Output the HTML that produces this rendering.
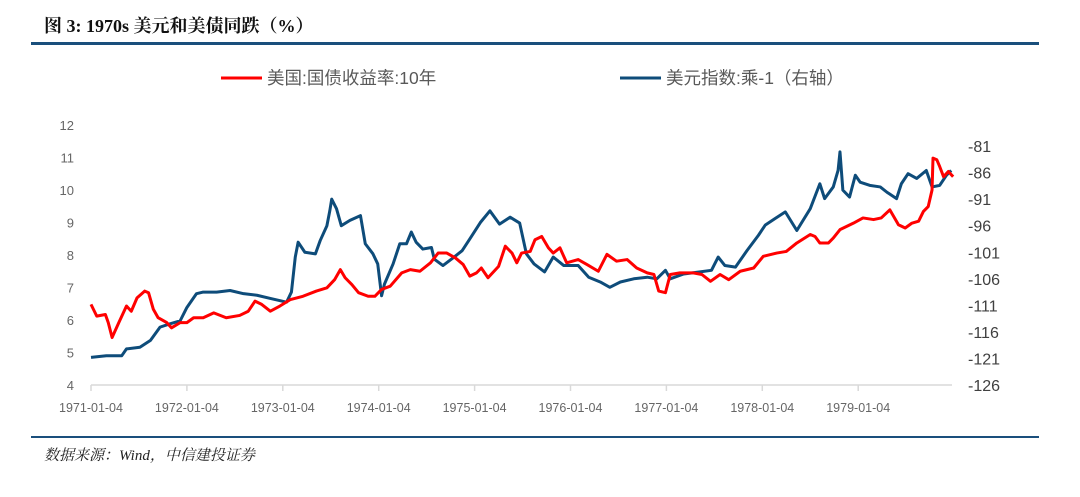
<!DOCTYPE html>
<html><head><meta charset="utf-8"><style>
body{margin:0;background:#fff;width:1080px;height:497px;overflow:hidden;position:relative;font-family:"Liberation Sans","Noto Sans CJK SC",sans-serif}
.t{position:absolute;white-space:nowrap}
</style></head><body>
<div class="t" style="left:44px;top:12px;font:bold 18px 'Liberation Serif','Noto Serif CJK SC',serif;color:#111">图 3: 1970s 美元和美债同跌（%）</div>
<div style="position:absolute;left:31px;top:42px;width:1008px;height:3px;background:#1a4f7c"></div>
<div style="position:absolute;left:31px;top:436px;width:1008px;height:2px;background:#1a4f7c"></div>
<div class="t" style="left:44px;top:444px;font:italic 15px 'Liberation Serif','Noto Serif CJK SC',serif;color:#222">数据来源：Wind，中信建投证券</div>
<svg id="c" width="1080" height="497" style="position:absolute;left:0;top:0"></svg>
<script>
const redT=[0,0.06,0.15,0.18,0.22,0.29,0.37,0.42,0.48,0.56,0.6,0.65,0.7,0.79,0.84,0.93,1.0,1.07,1.17,1.28,1.41,1.55,1.64,1.71,1.78,1.87,1.97,2.08,2.21,2.35,2.46,2.54,2.6,2.65,2.72,2.79,2.89,2.96,3.03,3.12,3.24,3.33,3.43,3.54,3.62,3.71,3.8,3.88,3.95,4.02,4.07,4.14,4.25,4.32,4.39,4.44,4.49,4.58,4.63,4.7,4.77,4.82,4.89,4.96,5.08,5.17,5.29,5.38,5.48,5.59,5.69,5.8,5.87,5.92,5.99,6.04,6.14,6.28,6.37,6.46,6.56,6.65,6.77,6.91,7.01,7.15,7.25,7.36,7.5,7.55,7.6,7.69,7.74,7.81,7.95,8.05,8.16,8.24,8.33,8.42,8.49,8.56,8.63,8.68,8.73,8.77,8.78,8.82,8.85,8.89,8.94,8.99];
const redV=[6.48,6.12,6.17,5.92,5.46,5.92,6.43,6.27,6.68,6.89,6.84,6.33,6.07,5.92,5.76,5.92,5.92,6.07,6.07,6.22,6.07,6.14,6.27,6.58,6.48,6.27,6.43,6.63,6.73,6.89,6.99,7.24,7.55,7.3,7.09,6.84,6.73,6.73,6.94,7.04,7.45,7.55,7.5,7.76,8.06,8.06,7.91,7.71,7.35,7.45,7.6,7.3,7.65,8.27,8.06,7.76,8.06,8.11,8.47,8.57,8.22,8.06,8.22,7.76,7.86,7.71,7.5,8.02,7.81,7.86,7.6,7.45,7.4,6.89,6.84,7.4,7.45,7.45,7.4,7.19,7.4,7.24,7.5,7.6,7.96,8.06,8.11,8.37,8.63,8.57,8.37,8.37,8.52,8.78,8.98,9.14,9.09,9.14,9.39,8.93,8.83,8.98,9.04,9.34,9.49,10.0,10.98,10.93,10.72,10.41,10.57,10.41];
const blueT=[0,0.16,0.32,0.37,0.51,0.62,0.72,0.82,0.93,1.0,1.1,1.17,1.31,1.45,1.59,1.73,1.87,2.04,2.09,2.13,2.16,2.23,2.34,2.39,2.46,2.49,2.51,2.56,2.61,2.7,2.81,2.86,2.94,2.99,3.03,3.06,3.15,3.22,3.29,3.34,3.39,3.46,3.55,3.58,3.67,3.78,3.87,3.95,4.06,4.16,4.26,4.37,4.47,4.54,4.62,4.73,4.82,4.93,5.08,5.19,5.31,5.41,5.52,5.66,5.8,5.9,5.99,6.04,6.18,6.35,6.47,6.54,6.61,6.72,6.84,6.96,7.03,7.13,7.24,7.36,7.5,7.6,7.65,7.74,7.79,7.81,7.84,7.91,7.97,8.02,8.12,8.23,8.3,8.4,8.45,8.52,8.61,8.71,8.77,8.85,8.92,8.97];
const blueV=[-120.8,-120.5,-120.5,-119.2,-118.9,-117.6,-115.1,-114.5,-113.9,-111.4,-108.8,-108.5,-108.5,-108.2,-108.8,-109.1,-109.7,-110.4,-108.5,-101.9,-99.1,-101.0,-101.3,-98.8,-96.0,-93.2,-91.0,-92.8,-96.0,-95.0,-94.1,-99.4,-101.3,-103.2,-109.2,-107.0,-103.2,-99.4,-99.4,-97.2,-99.1,-100.4,-100.1,-102.3,-103.5,-102.0,-100.7,-98.5,-95.4,-93.2,-95.7,-94.4,-95.5,-101.3,-103.2,-104.7,-101.9,-103.5,-103.5,-105.7,-106.6,-107.6,-106.6,-106.0,-105.7,-106.0,-104.4,-106.0,-105.1,-104.7,-104.4,-101.9,-103.5,-103.8,-100.7,-97.8,-95.9,-94.7,-93.4,-96.9,-92.8,-88.1,-90.9,-88.7,-85.6,-82.1,-89.3,-90.6,-86.5,-87.8,-88.4,-88.7,-89.7,-90.9,-88.1,-86.2,-87.1,-85.6,-88.7,-88.4,-86.5,-85.6];
const leftTicks=[4,5,6,7,8,9,10,11,12];
const rightTicks=[-126,-121,-116,-111,-106,-101,-96,-91,-86,-81];
const xTicks=["1971-01-04","1972-01-04","1973-01-04","1974-01-04","1975-01-04","1976-01-04","1977-01-04","1978-01-04","1979-01-04"];
const NS="http://www.w3.org/2000/svg";
const svg=document.getElementById('c');
const X=t=>91+t*95.9;
const YL=v=>385-(v-4)*32.5;
const YR=v=>385-(v+126)*5.31;
function mk(tag,attrs,txt){const e=document.createElementNS(NS,tag);for(const k in attrs)e.setAttribute(k,attrs[k]);if(txt!==undefined)e.textContent=txt;svg.appendChild(e);return e;}
let e=mk('line',{x1:91,y1:385,x2:952,y2:385,stroke:'#d9d9d9','stroke-width':1.5});


xTicks.forEach((s,i)=>{
  let l=mk('line',{x1:X(i),y1:385,x2:X(i),y2:391,stroke:'#d9d9d9','stroke-width':1.5});
  
  
  let t=mk('text',{x:X(i),y:412,'text-anchor':'middle','font-size':12.5,fill:'#666','font-family':'Liberation Sans,sans-serif'},s);
  
  
});
leftTicks.forEach(v=>{
  let t=mk('text',{x:74,y:YL(v)+5,'text-anchor':'end','font-size':13,fill:'#666','font-family':'Liberation Sans,sans-serif'},v);
  
  
});
rightTicks.forEach(v=>{
  let t=mk('text',{x:968,y:YR(v)+6,'text-anchor':'start','font-size':16,fill:'#404040','font-family':'Liberation Sans,sans-serif'},v);
  
  
});
let pb=mk('polyline',{points:blueT.map((t,i)=>X(t)+','+YR(blueV[i])).join(' '),fill:'none',stroke:'#0e4c7a','stroke-width':3,'stroke-linejoin':'round'});


let pr=mk('polyline',{points:redT.map((t,i)=>X(t)+','+YL(redV[i])).join(' '),fill:'none',stroke:'#ff0000','stroke-width':3,'stroke-linejoin':'round'});


let l1=mk('line',{x1:221,y1:78,x2:262,y2:78,stroke:'#ff0000','stroke-width':3});


let t1=mk('text',{x:267,y:84,'font-size':17.5,fill:'#595959','font-family':'Liberation Sans,Noto Sans CJK SC,sans-serif'},'美国:国债收益率:10年');


let l2=mk('line',{x1:620,y1:78,x2:661,y2:78,stroke:'#0e4c7a','stroke-width':3});


let t2=mk('text',{x:666,y:84,'font-size':17.5,fill:'#595959','font-family':'Liberation Sans,Noto Sans CJK SC,sans-serif'},'美元指数:乘-1（右轴）');


</script>
</body></html>
